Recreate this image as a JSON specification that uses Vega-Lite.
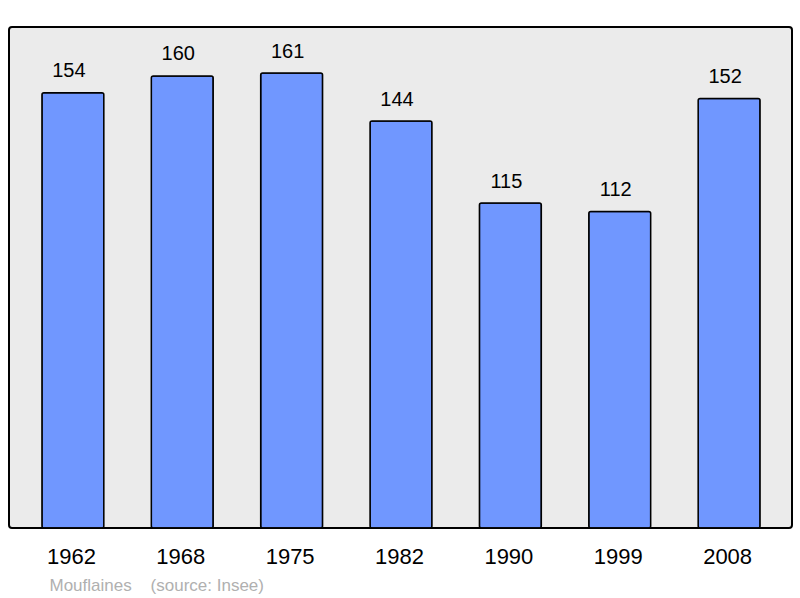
{
  "$schema": "https://vega.github.io/schema/vega-lite/v6.json",
  "width": 783,
  "height": 501,
  "autosize": {"type": "none"},
  "padding": {"left": 9, "top": 27, "right": 8, "bottom": 70},
  "background": "white",
  "config": {
    "view": {"fill": "#ebebeb", "stroke": "#000000", "strokeWidth": 2, "cornerRadius": 3},
    "font": "Liberation Sans"
  },
  "data": {
    "values": [
      {"year": "1962", "pop": 154},
      {"year": "1968", "pop": 160},
      {"year": "1975", "pop": 161},
      {"year": "1982", "pop": 144},
      {"year": "1990", "pop": 115},
      {"year": "1999", "pop": 112},
      {"year": "2008", "pop": 152}
    ]
  },
  "encoding": {
    "x": {
      "field": "year",
      "type": "nominal",
      "sort": null,
      "scale": {"paddingInner": 0.434, "paddingOuter": 0.292, "range": [1, 783]},
      "axis": {
        "domain": false,
        "ticks": false,
        "labelAngle": 0,
        "labelFontSize": 22,
        "labelColor": "#000000",
        "labelPadding": 18,
        "labelOffset": -1.5,
        "title": "Mouflaines\u00a0\u00a0\u00a0\u00a0(source: Insee)",
        "titleFontSize": 17,
        "titleFontWeight": "normal",
        "titleColor": "#b0b0b0",
        "titleAnchor": "start",
        "titleAlign": "left",
        "titleX": 40,
        "titleY": 62,
        "titleBaseline": "alphabetic"
      }
    },
    "y": {
      "field": "pop",
      "type": "quantitative",
      "scale": {"domain": [0, 177.3], "nice": false, "zero": true},
      "axis": null
    }
  },
  "layer": [
    {
      "mark": {"type": "bar", "fill": "#7097ff", "stroke": "#000000", "strokeWidth": 1.5, "cornerRadius": 2}
    },
    {
      "mark": {"type": "text", "fontSize": 20, "color": "#000000", "baseline": "alphabetic", "dy": -15.5, "dx": -4},
      "encoding": {"text": {"field": "pop", "type": "quantitative"}}
    }
  ]
}
